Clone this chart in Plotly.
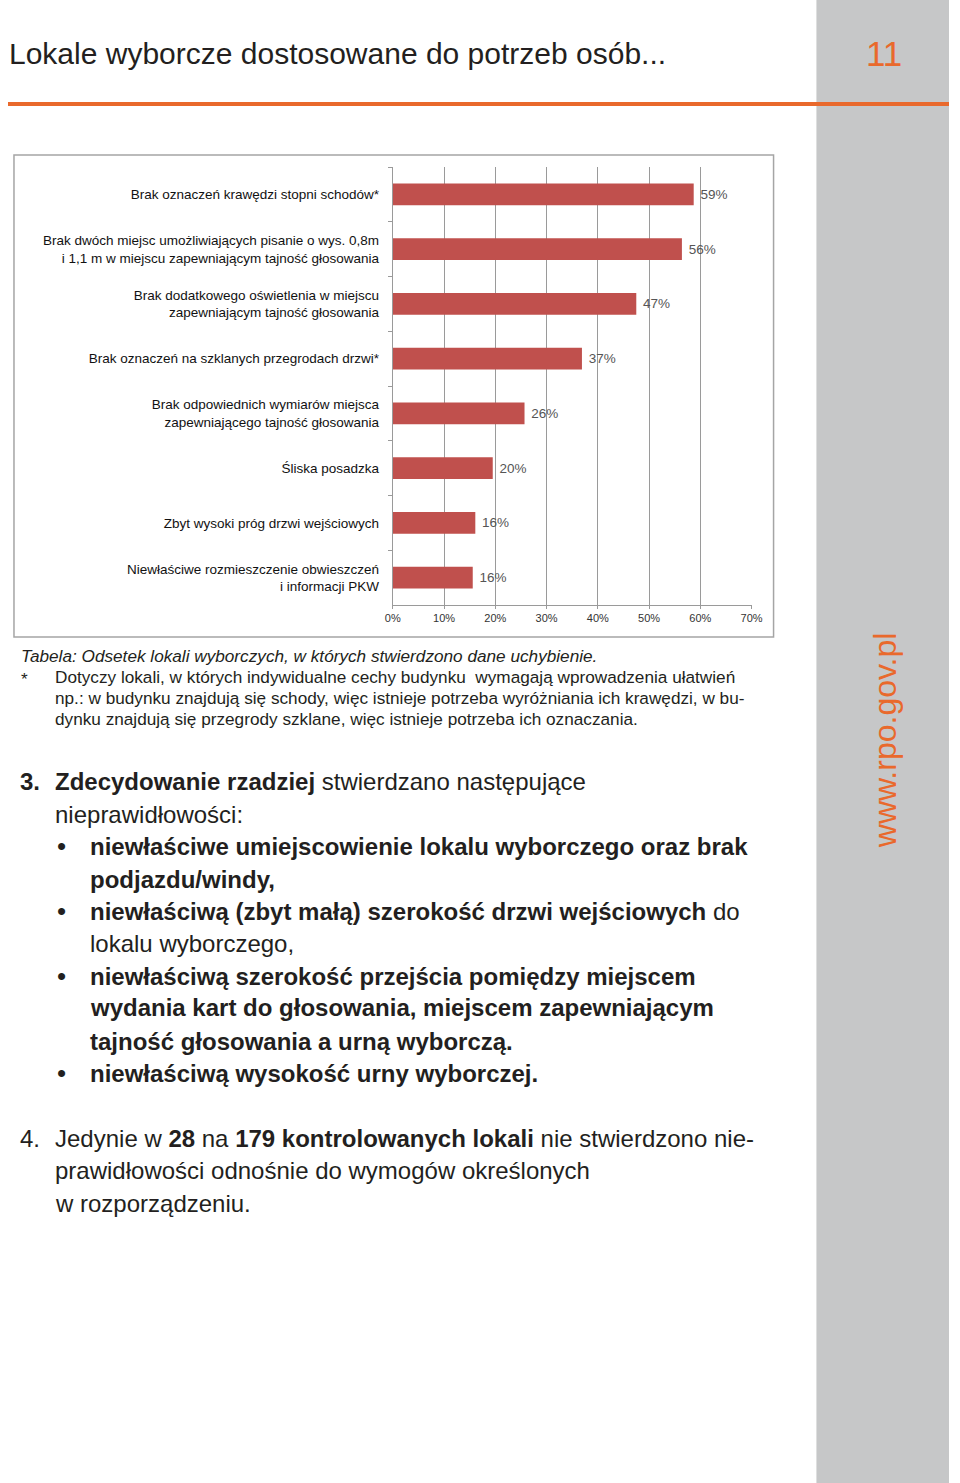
import plotly.graph_objects as go

W, H = 960, 1483
FONT = "Liberation Sans, Arial, sans-serif"
DARK = "#231f20"
ORANGE = "#e9692c"

categories = [
    "Brak oznaczeń krawędzi stopni schodów*",
    "Brak dwóch miejsc umożliwiających pisanie o wys. 0,8m<br>i 1,1 m w miejscu zapewniającym tajność głosowania",
    "Brak dodatkowego oświetlenia w miejscu<br>zapewniającym tajność głosowania",
    "Brak oznaczeń na szklanych przegrodach drzwi*",
    "Brak odpowiednich wymiarów miejsca<br>zapewniającego tajność głosowania",
    "Śliska posadzka",
    "Zbyt wysoki próg drzwi wejściowych",
    "Niewłaściwe rozmieszczenie obwieszczeń<br>i informacji PKW",
]
values = [58.7, 56.4, 47.5, 36.9, 25.7, 19.5, 16.1, 15.6]
value_labels = ["59%", "56%", "47%", "37%", "26%", "20%", "16%", "16%"]
x_ticks = [0, 10, 20, 30, 40, 50, 60, 70]
x_tick_labels = ["0%", "10%", "20%", "30%", "40%", "50%", "60%", "70%"]

# the photographed page appears horizontally offset/scaled (x' = 8 + 944/960 * x);
# page positions below are target pixel positions, converted to paper fractions.
OFF, SPAN = 8.0, 944.0


def px_x(x):
    return min(1.0, max(0.0, (x - OFF) / SPAN))


def px_y(y):
    return 1 - y / H


fig = go.Figure()
fig.add_trace(go.Bar(
    y=categories, x=values, orientation="h",
    marker=dict(color="#c0504d", line=dict(width=0)),
    text=value_labels, texttemplate=" %{text}", textposition="outside", cliponaxis=False,
    textfont=dict(size=13.5, color="#555555", family=FONT),
    hoverinfo="skip",
))

fig.update_layout(
    width=W, height=H, autosize=False, margin=dict(l=0, r=0, t=0, b=0),
    paper_bgcolor="white", plot_bgcolor="white",
    showlegend=False, bargap=0.6,
    font=dict(family=FONT, color=DARK),
    xaxis=dict(
        domain=[px_x(394), px_x(754)], range=[0, 70],
        tickvals=x_ticks, ticktext=x_tick_labels,
        showgrid=True, gridcolor="#9a9a9a", gridwidth=1,
        showline=True, linecolor="#9a9a9a", linewidth=1,
        ticks="outside", ticklen=3, tickcolor="#9a9a9a",
        tickfont=dict(size=11, color="#333333", family=FONT),
        zeroline=False, fixedrange=True,
    ),
    yaxis=dict(
        domain=[px_y(605), px_y(167)], autorange="reversed",
        type="category",
        showgrid=False, showline=True, linecolor="#9a9a9a", linewidth=1,
        ticks="outside", ticklen=4, tickcolor="#9a9a9a", tickson="boundaries",
        tickfont=dict(size=13.5, color="#111111", family=FONT),
        ticklabelstandoff=10,
        zeroline=False, fixedrange=True,
    ),
)

# page decorations
fig.add_shape(type="rect", xref="paper", yref="paper",
              x0=px_x(819), x1=1, y0=0, y1=1,
              fillcolor="#c6c7c8", line=dict(width=0), layer="below")
fig.add_shape(type="line", xref="paper", yref="paper",
              x0=px_x(5), x1=1, y0=px_y(104), y1=px_y(104),
              line=dict(color=ORANGE, width=4))
fig.add_shape(type="rect", xref="paper", yref="paper",
              x0=px_x(14), x1=px_x(776), y0=px_y(637), y1=px_y(155),
              line=dict(color="#a5a5a5", width=1.5), fillcolor="rgba(0,0,0,0)")


def txt(x, y, s, size, color=DARK, anchor="left", angle=0):
    fig.add_annotation(x=px_x(x), y=px_y(y), xref="paper", yref="paper",
                       text=s, showarrow=False, xanchor=anchor, yanchor="middle",
                       textangle=angle, borderpad=0,
                       font=dict(size=size, color=color, family=FONT))


txt(3, 53, "Lokale wyborcze dostosowane do potrzeb osób...", 30)
txt(887, 54, "11", 35, color=ORANGE, anchor="center")
txt(888, 740, "www.rpo.gov.pl", 32, color=ORANGE, anchor="center", angle=-90)

# caption
CS = 17.2
txt(20, 656, "<i>Tabela: Odsetek lokali wyborczych, w których stwierdzono dane uchybienie.</i>", CS)
txt(20, 679, "*", CS)
txt(54, 677, "Dotyczy lokali, w których indywidualne cechy budynku  wymagają wprowadzenia ułatwień", CS)
txt(54, 698, "np.: w budynku znajdują się schody, więc istnieje potrzeba wyróżniania ich krawędzi, w bu-", CS)
txt(54, 719, "dynku znajdują się przegrody szklane, więc istnieje potrzeba ich oznaczania.", CS)

# point 3
S = 24
txt(19, 781, "<b>3.</b>", S)
txt(54, 781, "<b>Zdecydowanie rzadziej</b> stwierdzano następujące", S)
txt(54, 814, "nieprawidłowości:", S)
for yy in (846, 911, 976, 1073):
    txt(56, yy, "•", 26)
txt(89, 846, "<b>niewłaściwe umiejscowienie lokalu wyborczego oraz brak</b>", S)
txt(89, 879, "<b>podjazdu/windy,</b>", S)
txt(89, 911, "<b>niewłaściwą (zbyt małą) szerokość drzwi wejściowych</b> do", S)
txt(89, 943, "lokalu wyborczego,", S)
txt(89, 976, "<b>niewłaściwą szerokość przejścia pomiędzy miejscem</b>", S)
txt(89, 1008, "<b>wydania kart do głosowania, miejscem zapewniającym</b>", S)
txt(89, 1041, "<b>tajność głosowania a urną wyborczą.</b>", S)
txt(89, 1073, "<b>niewłaściwą wysokość urny wyborczej.</b>", S)

# point 4
txt(19, 1138, "4.", S)
txt(54, 1138, "Jedynie w <b>28</b> na <b>179 kontrolowanych lokali</b> nie stwierdzono nie-", S)
txt(54, 1170, "prawidłowości odnośnie do wymogów określonych", S)
txt(54, 1203, "w rozporządzeniu.", S)

fig.write_html("out.html", config={"responsive": False})
